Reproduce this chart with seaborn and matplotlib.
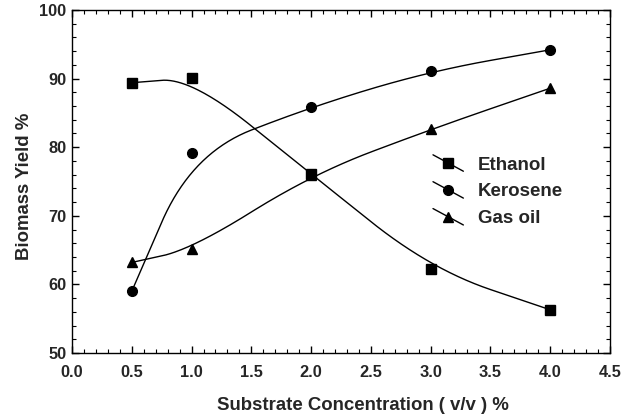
import numpy as np
import pandas as pd
import matplotlib
matplotlib.use("Agg")
import matplotlib.pyplot as plt
import seaborn as sns
from matplotlib.lines import Line2D
from matplotlib.legend_handler import HandlerLine2D
from matplotlib.ticker import MultipleLocator

# Substrate concentration (v/v %) and biomass yield (%) per substrate
concentration = [0.5, 1.0, 2.0, 3.0, 4.0]
ethanol = [89.4, 90.1, 76.1, 62.2, 56.3]
kerosene = [59.0, 79.1, 85.9, 91.1, 94.2]
gas_oil = [63.2, 65.1, 76.0, 82.6, 88.6]

series_names = ["Ethanol", "Kerosene", "Gas oil"]
series_values = [ethanol, kerosene, gas_oil]
series_markers = ["s", "o", "^"]
series_sizes = [7.5, 7.0, 6.5]

x_ticks = [0.0, 0.5, 1.0, 1.5, 2.0, 2.5, 3.0, 3.5, 4.0, 4.5]
y_ticks = [50, 60, 70, 80, 90, 100]


def bspline_curve(x, y, per_segment=60):
    """Uniform quadratic B-spline with the measured points as control points
    (end points doubled so the curve starts and ends on them)."""
    P = np.column_stack([np.asarray(x, float), np.asarray(y, float)])
    Q = np.vstack([P[:1], P, P[-1:]])
    t = np.linspace(0, 1, per_segment)[:, None]
    parts = []
    for i in range(len(Q) - 2):
        a = (Q[i] + Q[i + 1]) / 2
        b = Q[i + 1]
        c = (Q[i + 1] + Q[i + 2]) / 2
        seg = (1 - t) ** 2 * a + 2 * (1 - t) * t * b + t ** 2 * c
        parts.append(seg if i == 0 else seg[1:])
    C = np.vstack(parts)
    return C[:, 0], C[:, 1]


sns.set_style("ticks")
plt.rcParams["font.family"] = ["Liberation Sans", "DejaVu Sans"]
plt.rcParams["font.weight"] = "bold"

fig = plt.figure(figsize=(6.38, 4.18), dpi=100)
ax = fig.add_axes([72 / 638, 1 - 353 / 418, 538 / 638, 343 / 418])

for name, vals, mk, ms in zip(series_names, series_values, series_markers,
                              series_sizes):
    gx, gy = bspline_curve(concentration, vals)
    curve = pd.DataFrame({"x": gx, "y": gy})
    sns.lineplot(data=curve, x="x", y="y", ax=ax, color="black", lw=1.0,
                 sort=False, estimator=None)
    pts = pd.DataFrame({"x": concentration, "y": vals})
    ax.plot(pts["x"], pts["y"], ls="none", marker=mk, ms=ms, color="black",
            label=name, zorder=3)

ax.set_xlim(0, 4.5)
ax.set_ylim(50, 100)
ax.set_xticks(x_ticks)
ax.set_xticklabels([f"{v:.1f}" for v in x_ticks])
ax.set_yticks(y_ticks)
ax.xaxis.set_minor_locator(MultipleLocator(0.1))
ax.yaxis.set_minor_locator(MultipleLocator(2))
ax.tick_params(which="both", direction="in", top=True, right=True,
               labeltop=False, labelright=False, color="black")
ax.tick_params(which="major", length=5, width=1, labelsize=11.8)
ax.tick_params(axis="x", which="major", pad=8.5)
ax.tick_params(axis="y", which="major", pad=4)
ax.tick_params(which="minor", length=3, width=0.8)
for lbl in ax.get_xticklabels() + ax.get_yticklabels():
    lbl.set_fontweight("bold")
for sp in ax.spines.values():
    sp.set_color("black")
    sp.set_linewidth(1.0)

ax.set_xlabel("Substrate Concentration ( v/v ) %", fontsize=13.4,
              fontweight="bold")
ax.set_ylabel("Biomass Yield %", fontsize=13.4, fontweight="bold")
ax.xaxis.set_label_coords(0.54, -0.128)
ax.yaxis.set_label_coords(-0.072, 0.487)


class SlantedHandler(HandlerLine2D):
    def create_artists(self, legend, orig_handle, xdescent, ydescent, width,
                       height, fontsize, trans):
        x0 = -xdescent
        x1 = -xdescent + width
        yc = -ydescent + height / 2
        dy = width * 0.27
        seg = Line2D([x0, x1], [yc + dy, yc - dy], color="black", lw=1.0)
        mk = Line2D([(x0 + x1) / 2], [yc], ls="none",
                    marker=orig_handle.get_marker(),
                    ms=orig_handle.get_markersize(), color="black")
        seg.set_transform(trans)
        mk.set_transform(trans)
        return [seg, mk]


handles, labels = ax.get_legend_handles_labels()
ax.legend(handles, labels, loc="upper left", bbox_to_anchor=(0.671, 0.573),
          frameon=False, handlelength=1.62, handletextpad=0.78,
          labelspacing=0.52, borderpad=0, borderaxespad=0,
          handler_map={Line2D: SlantedHandler()},
          prop={"weight": "bold", "size": 13.5})

fig.savefig("out.png", dpi=100)
